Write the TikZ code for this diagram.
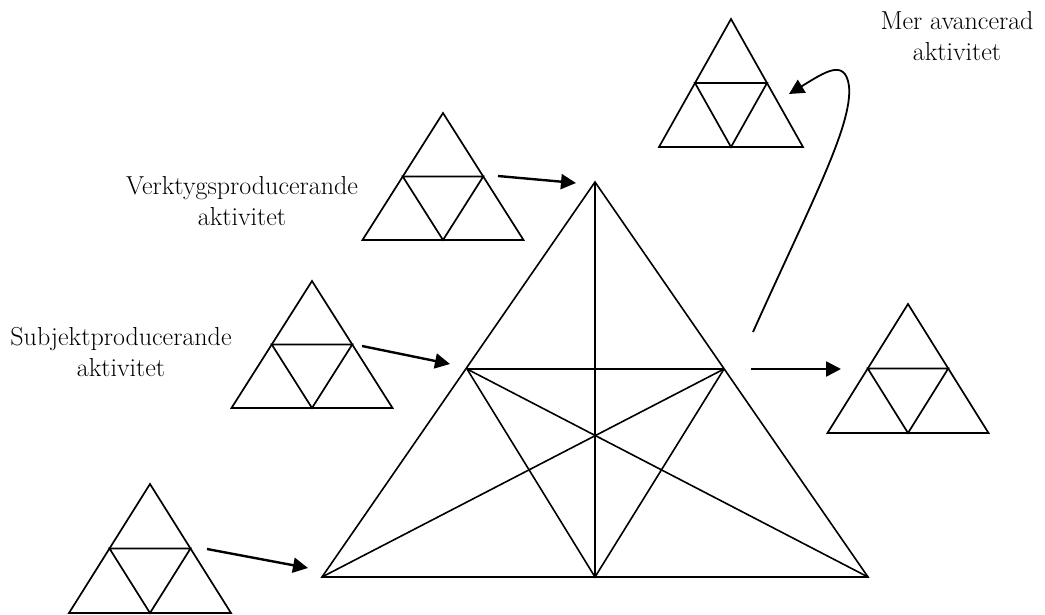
\documentclass[tikz,border=0pt]{standalone}
\usepackage{fontspec}
\usetikzlibrary{arrows.meta}
\begin{document}
\begin{tikzpicture}[x=1pt,y=-1pt,
  ln/.style={line width=1.7pt, line join=miter},
  thin ln/.style={line width=1.6pt},
  arr/.style={line width=2.4pt, -{Triangle[length=15pt,width=15pt]}},
  lbl/.style={align=center, inner sep=0pt, anchor=north, font=\fontsize{26}{31}\selectfont}]
\useasboundingbox (0,0) rectangle (1045,614);
\newcommand\smalltri[4]{%
  \begin{scope}[shift={(#1,#2)},x=#3pt,y=-#4pt]
    \draw[ln] (0,0)--(-0.5,1)--(0.5,1)--cycle;
    \draw[ln] (-0.25,0.5)--(0.25,0.5)--(0,1)--cycle;
  \end{scope}}
% small triangles
\smalltri{731}{19}{144}{128}
\smalltri{443}{113}{161}{127}
\smalltri{312}{281}{161}{127}
\smalltri{150}{484}{162}{129}
\smalltri{908}{304}{161}{129}
% big triangle
\coordinate (T) at (595,182);
\coordinate (BL) at (322,577);
\coordinate (BR) at (868,577);
\coordinate (BM) at (595,577);
\coordinate (ML) at (467,369);
\coordinate (MR) at (724,369);
\draw[thin ln] (T)--(BL)--(BR)--cycle;
\draw[thin ln] (T)--(BM);
\draw[thin ln] (ML)--(MR);
\draw[thin ln] (ML)--(BM)--(MR);
\draw[thin ln] (BL)--(MR);
\draw[thin ln] (BR)--(ML);
% arrow end points
\coordinate (a1s) at (498,176); \coordinate (a1e) at (576,183);
\coordinate (a2s) at (362,346); \coordinate (a2e) at (450,364);
\coordinate (a3s) at (207,549); \coordinate (a3e) at (308,568);
\coordinate (a4s) at (751,369); \coordinate (a4e) at (841,369);
\coordinate (cs) at (753,332); \coordinate (ce) at (789,94);
\draw[arr] (a1s) -- (a1e);
\draw[arr] (a2s) -- (a2e);
\draw[arr] (a3s) -- (a3e);
\draw[arr] (a4s) -- (a4e);
\draw[line width=1.8pt, -{Triangle[length=15pt,width=15pt]}] (cs) .. controls (810,205) and (853,125) .. (849,86) .. controls (845,58) and (825,72) .. (ce);
% labels
\node[lbl] (mer) at (957,11) {Mer avancerad\\aktivitet};
\node[lbl] (verk) at (242,176) {Verktygsproducerande\\aktivitet};
\node[lbl] (subj) at (121,327) {Subjektproducerande\\aktivitet};
\end{tikzpicture}
\end{document}
